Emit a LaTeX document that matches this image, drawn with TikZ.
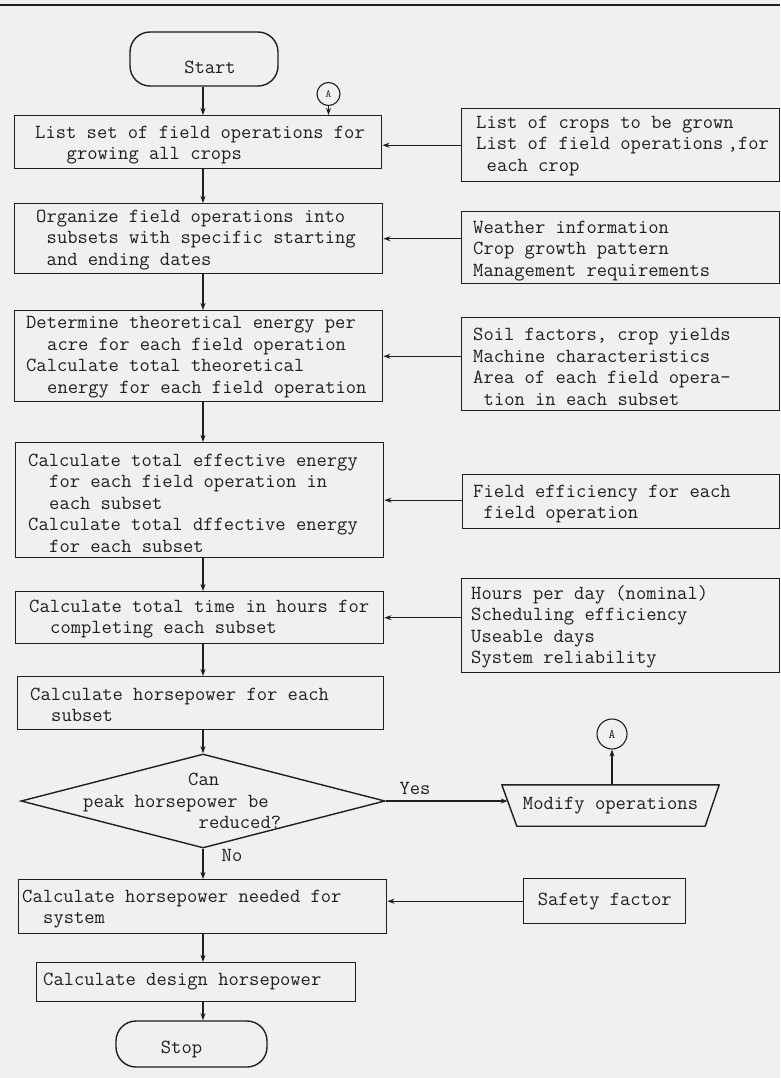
\documentclass[tikz,border=0pt]{standalone}
\usepackage{fontspec}
\usetikzlibrary{shapes.geometric,arrows.meta,calc}
\definecolor{ink}{gray}{0.12}
\definecolor{paper}{gray}{0.94}
\newcommand\tw{\ttfamily\fontsize{20}{21.5}\selectfont}
\newcommand\smA{\ttfamily\fontsize{13}{13}\selectfont}
\newcommand\tinyA{\ttfamily\fontsize{11}{11}\selectfont}
\newlength\chw
\setlength\chw{10.5pt}
\newcommand\ch[1]{\hspace*{#1\chw}}
\begin{document}
\begin{tikzpicture}[x=1pt,y=-1pt,
  line/.style={draw=ink, line width=1.4pt},
  proc/.style={draw=ink, line width=1.4pt, rectangle, inner sep=0pt, anchor=north west},
  txt/.style={align=left, inner sep=0pt, font=\tw, text=ink, anchor=west},
  arr/.style={draw=ink, line width=1.1pt, -{Stealth[length=7pt,width=5pt]}},
  conn/.style={draw=ink, line width=1.1pt, circle, inner sep=0pt, text=ink},
  term/.style={draw=ink, line width=1.4pt, rectangle, rounded corners=20pt, inner sep=0pt, font=\tw, text=ink}]
\fill[paper] (0,0) rectangle (780,1078);
\useasboundingbox (0,0) rectangle (780,1078);
\draw[ink, line width=2pt] (0,5) -- (780,5);
\coordinate (ax) at (203,0);

% terminals
\node[term, minimum width=148pt, minimum height=54pt, text height=32pt, text depth=2pt] (start) at (204,59) {\hspace*{12pt}Start};
\node[term, minimum width=151pt, minimum height=46pt, text height=20pt, text depth=2pt] (stop) at (191.5,1044) {Stop\hspace*{20pt}};

% main process boxes
\node[proc, minimum width=367pt, minimum height=53pt] (b1) at (14,115) {};
\node[txt] (b1t) at (35,145) {List set of field operations for\\\ch{3}growing all crops};

\node[proc, minimum width=368pt, minimum height=70pt] (b2) at (14,203) {};
\node[txt] (b2t) at (36,240) {Organize field operations into\\\ch{1}subsets with specific starting\\\ch{1}and ending dates};

\node[proc, minimum width=368pt, minimum height=91pt] (b3) at (14,310) {};
\node[txt] (b3t) at (26,357) {Determine theoretical energy per\\\ch{2}acre for each field operation\\Calculate total theoretical\\\ch{2}energy for each field operation};

\node[proc, minimum width=368pt, minimum height=115pt] (b4) at (15,442) {};
\node[txt] (b4t) at (28,503) {Calculate total effective energy\\\ch{2}for each field operation in\\\ch{2}each subset\\Calculate total dffective energy\\\ch{2}for each subset};

\node[proc, minimum width=368pt, minimum height=52pt] (b5) at (15,591) {};
\node[txt] (b5t) at (29,619) {Calculate total time in hours for\\\ch{2}completing each subset};

\node[proc, minimum width=366pt, minimum height=53pt] (b6) at (17,676) {};
\node[txt] (b6t) at (30,705) {Calculate horsepower for each\\\ch{2}subset};

\node[draw=ink, line width=1.4pt, diamond, minimum width=364pt, minimum height=94pt, inner sep=0pt] (dia) at (203,801) {};
\node[txt] (diat) at (83,801) {\ch{10}Can\\peak horsepower be\\\ch{11}reduced?};

\node[proc, minimum width=368pt, minimum height=54pt] (b7) at (18,879) {};
\node[txt] (b7t) at (22,909) {Calculate horsepower needed for\\\ch{2}system};

\node[proc, minimum width=319pt, minimum height=39pt] (b8) at (36,962) {};
\node[txt] (b8t) at (43,982) {Calculate design horsepower};

% input boxes
\node[proc, minimum width=318pt, minimum height=73pt] (r1) at (461,108) {};
\node[txt] (r1t) at (476,146) {List of crops to be grown\\List of field operations\kern-6pt{} ,for\\\ch{1}each crop};

\node[proc, minimum width=318pt, minimum height=72pt] (r2) at (461,211) {};
\node[txt] (r2t) at (473,251) {Weather information\\Crop growth pattern\\Management requirements};

\node[proc, minimum width=318pt, minimum height=93pt] (r3) at (461,317) {};
\node[txt] (r3t) at (473,367) {Soil factors, crop yields\\Machine characteristics\\Area of each field opera-\\\ch{1}tion in each subset};

\node[proc, minimum width=317pt, minimum height=54pt] (r4) at (462,474) {};
\node[txt] (r4t) at (473,504) {Field efficiency for each\\\ch{1}field operation};

\node[proc, minimum width=318pt, minimum height=94pt] (r5) at (461,578) {};
\node[txt] (r5t) at (471,627) {Hours per day (nominal)\\Scheduling efficiency\\Useable days\\System reliability};

\node[proc, minimum width=162pt, minimum height=45pt, font=\tw, text=ink] (sf) at (523,878) {Safety factor};

% modify operations (trapezoid)
\node[inner sep=0pt, minimum width=217pt, minimum height=41pt, font=\tw, text=ink] (mod) at (610.5,805.5) {Modify operations};
\draw[line, line join=round] (mod.north west) -- (mod.north east) -- ([xshift=-14pt]mod.south east) -- ([xshift=15pt]mod.south west) -- cycle;
\coordinate (ml) at ($(mod.north west)!0.39!([xshift=15pt]mod.south west)$);

% connectors A
\node[conn, minimum size=30pt, font=\smA] (A2) at (612,734) {A};
\node[conn, minimum size=23pt, font=\tinyA] (A1) at (328.5,94) {A};

% labels
\node[font=\tw, text=ink, inner sep=0pt] (yes) at (415,788) {Yes};
\node[font=\tw, text=ink, inner sep=0pt] (no) at (232,855) {No};

% main flow
\draw[arr] (ax |- start.south) -- (ax |- b1.north);
\draw[arr] (ax |- b1.south) -- (ax |- b2.north);
\draw[arr] (ax |- b2.south) -- (ax |- b3.north);
\draw[arr] (ax |- b3.south) -- (ax |- b4.north);
\draw[arr] (ax |- b4.south) -- (ax |- b5.north);
\draw[arr] (ax |- b5.south) -- (ax |- b6.north);
\draw[arr] (ax |- b6.south) -- (dia.north);
\draw[arr] (dia.south) -- (ax |- b7.north);
\draw[arr] (ax |- b7.south) -- (ax |- b8.north);
\draw[arr] (ax |- b8.south) -- (ax |- stop.north);

% inputs
\draw[arr] (r1.west) -- (r1.west -| b1.east);
\draw[arr] (r2.west |- b2.east) -- (b2.east);
\draw[arr] (r3.west |- b3.east) -- (b3.east);
\draw[arr] (r4.west |- b4.east) -- (b4.east);
\draw[arr] (r5.west |- b5.east) -- (b5.east);
\draw[arr] (sf.west) -- (sf.west -| b7.east);

% decision and loop
\draw[arr] (dia.east) -- (dia.east -| ml);
\draw[arr] (A2 |- mod.north) -- (A2.south);
\draw[arr] (A1.south) -- (A1.south |- b1.north);
\end{tikzpicture}
\end{document}
